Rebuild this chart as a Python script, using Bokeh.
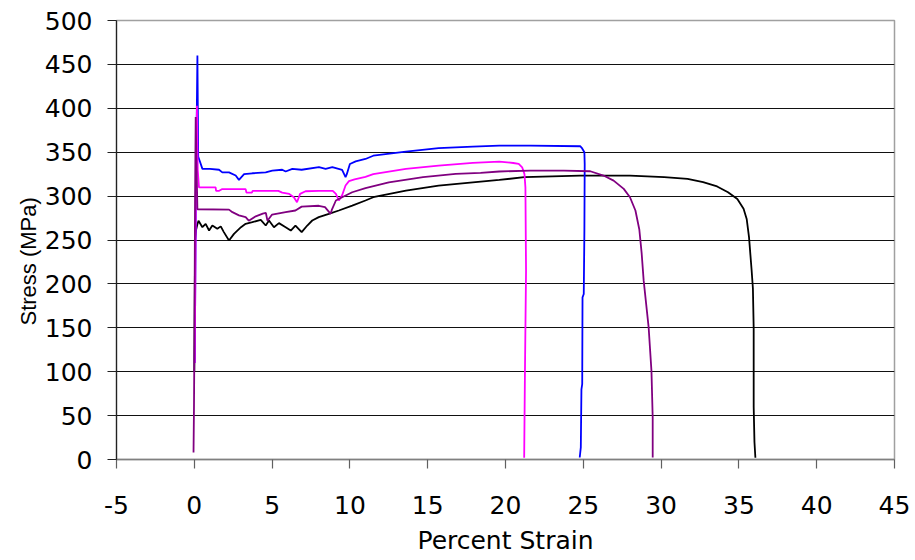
from bokeh.plotting import figure
from bokeh.models import FixedTicker, Range1d, Title
from bokeh.embed import file_html
from bokeh.resources import INLINE

# ---- data ----
x_ticks = [-5, 0, 5, 10, 15, 20, 25, 30, 35, 40, 45]
x_tick_labels = ["-5", "0", "5", "10", "15", "20", "25", "30", "35", "40", "45"]
y_ticks = [0, 50, 100, 150, 200, 250, 300, 350, 400, 450, 500]
y_tick_labels = ["0", "50", "100", "150", "200", "250", "300", "350", "400", "450", "500"]

black_strain = [0.0, 0.05, 0.12, 0.2, 0.27, 0.52, 0.73, 0.95, 1.16, 1.48, 1.7, 1.9, 2.23, 2.55,
                3.0, 3.3, 3.73, 4.27, 4.59, 4.8, 5.12, 5.44, 5.87, 6.2, 6.5, 6.9, 7.26, 7.58,
                8.0, 8.65, 9.29, 10.15, 11.0, 11.5, 13.6, 15.7, 17.9, 19.6, 21.2, 24.8, 28.0,
                30.2, 31.7, 32.7, 33.6, 34.3, 34.9, 35.3, 35.5, 35.65, 35.82, 35.9, 35.95,
                35.95, 36.0, 36.06]
black_stress = [100, 250, 262, 268, 272, 264.6, 268.4, 260.8, 266.5, 262.7, 265.5, 259, 249.4, 257,
                264.6, 268.4, 270.3, 273, 266.5, 272.2, 264.6, 269.2, 264.6, 260.8, 266.5, 258.9,
                266.5, 272.2, 276, 279.8, 283.6, 289.2, 295, 298.7, 306.3, 312, 315.7, 318.4,
                321.5, 323.4, 323.4, 321.5, 319.6, 316, 311, 304.4, 296.8, 285.5, 274, 253.2,
                215, 195, 150, 60, 20, 2]

blue_strain = [0.03, 0.1, 0.2, 0.25, 0.35, 0.52, 1.0, 1.59, 1.8, 2.23, 2.66, 2.87, 3.2, 3.73,
               4.59, 5.01, 5.65, 5.87, 6.3, 6.9, 8.01, 8.44, 8.87, 9.5, 9.72, 9.8, 10.0, 10.37,
               11.0, 11.5, 13.6, 15.7, 17.9, 19.6, 20.75, 21.6, 24.8, 24.9, 25.07, 25.09,
               25.07, 25.03, 24.95, 24.93, 24.88, 24.84, 24.77]
blue_stress = [110, 300, 460, 345, 340, 331, 331, 330, 327, 327, 323.4, 318.5, 325, 326,
               327, 329, 330, 328, 331, 330, 333, 331, 333, 330, 321.5, 325, 336.6, 339.6,
               342.3, 346, 350.7, 354.6, 356.4, 357.5, 357.5, 357.5, 356.8, 355, 350, 336.6,
               260.7, 188.5, 184.7, 85.9, 80, 13.7, 2.3]

magenta_strain = [0.03, 0.1, 0.17, 0.22, 0.3, 1.37, 1.4, 1.6, 1.8, 3.3, 3.35, 3.7, 3.75, 5.4,
                  5.65, 6.1, 6.4, 6.6, 6.8, 7.15, 8.0, 8.9, 9.1, 9.29, 9.5, 9.72, 9.94, 10.3,
                  11.0, 11.5, 13.6, 15.7, 17.9, 19.6, 20.5, 20.85, 21.07, 21.22, 21.28, 21.32,
                  21.25, 21.2]
magenta_stress = [110, 300, 403, 330, 310, 310, 306, 306, 308, 308, 304, 304, 306, 306,
                  304, 302.5, 298.7, 293, 302.5, 305.5, 306, 306, 302.5, 295, 301, 312, 317, 319,
                  322, 325, 331, 334.7, 337.8, 339.3, 337.7, 336.6, 332.8, 325, 310, 215,
                  100, 2]

purple_strain = [-0.05, -0.02, 0.0, 0.05, 0.09, 0.14, 0.2, 2.23, 2.45, 2.87, 3.3, 3.5, 3.95,
                 4.4, 4.6, 4.7, 5.0, 5.87, 6.5, 6.9, 8.0, 8.4, 8.76, 8.85, 9.1, 9.5, 10.15,
                 11.0, 12.5, 14.7, 16.8, 18.4, 19.6, 21.6, 23.75, 25.45, 26.3, 26.95, 27.6,
                 28.0, 28.35, 28.6, 28.75, 28.88, 29.2, 29.38, 29.46, 29.46]
purple_stress = [8, 60, 115, 300, 390, 340, 285, 284.6, 281.7, 278, 276, 272, 277,
                 280, 280.8, 272, 279, 281.7, 283.6, 288, 289, 287.4, 279.8, 285, 295, 298.7, 304.4,
                 309, 315.7, 321.5, 325.2, 326.5, 328, 329, 329, 328.3, 323.4, 317.6, 308.2,
                 298.7, 283.6, 262, 235, 203.7, 150.4, 101, 47.9, 2.3]

series = [
    (black_strain, black_stress, "#000000"),
    (blue_strain, blue_stress, "#0000FF"),
    (magenta_strain, magenta_stress, "#FF00FF"),
    (purple_strain, purple_stress, "#800080"),
]

# ---- figure ----
p = figure(width=915, height=560, x_range=Range1d(-5, 45), y_range=Range1d(0, 500),
           output_backend="svg", toolbar_location=None,
           min_border_left=116, min_border_right=21, min_border_top=20, min_border_bottom=101,
           background_fill_color="white", border_fill_color="white")

p.outline_line_color = "#A0A0A0"
p.outline_line_width = 1.5

p.xgrid.visible = False
p.ygrid.ticker = FixedTicker(ticks=y_ticks[1:-1])
p.ygrid.grid_line_color = "#111111"
p.ygrid.grid_line_width = 1.2

for xs, ys, col in series:
    p.line(xs, ys, line_color=col, line_width=1.8)

xa = p.xaxis[0]
xa.ticker = FixedTicker(ticks=x_ticks)
xa.major_label_overrides = {t: l for t, l in zip(x_ticks, x_tick_labels)}
xa.axis_line_color = "#808080"
xa.axis_line_width = 1.5
xa.major_tick_line_color = "#606060"
xa.major_tick_line_width = 1.2
xa.major_tick_out = 9
xa.major_tick_in = 0
xa.minor_tick_line_color = None
xa.major_label_text_font = "DejaVu Sans"
xa.major_label_text_font_size = "25px"
xa.major_label_text_color = "black"
xa.major_label_standoff = 27
xa.axis_label = "Percent Strain"
xa.axis_label_text_font = "DejaVu Sans"
xa.axis_label_text_font_size = "25px"
xa.axis_label_text_font_style = "normal"
xa.axis_label_text_color = "black"
xa.axis_label_standoff = 9

ya = p.yaxis[0]
ya.ticker = FixedTicker(ticks=y_ticks)
ya.major_label_overrides = {t: l for t, l in zip(y_ticks, y_tick_labels)}
ya.axis_line_color = "#222222"
ya.axis_line_width = 1.2
ya.major_tick_line_color = "#222222"
ya.major_tick_line_width = 1.2
ya.major_tick_out = 9
ya.major_tick_in = 0
ya.minor_tick_line_color = None
ya.major_label_text_font = "DejaVu Sans"
ya.major_label_text_font_size = "25px"
ya.major_label_text_color = "black"
ya.major_label_standoff = 15

ytitle = Title(text="Stress (MPa)", align="left", offset=134,
               text_font="Liberation Sans", text_font_size="22px",
               text_font_style="normal", text_color="black", standoff=2)
p.add_layout(ytitle, "left")

open("out.html", "w").write(file_html(p, INLINE))
